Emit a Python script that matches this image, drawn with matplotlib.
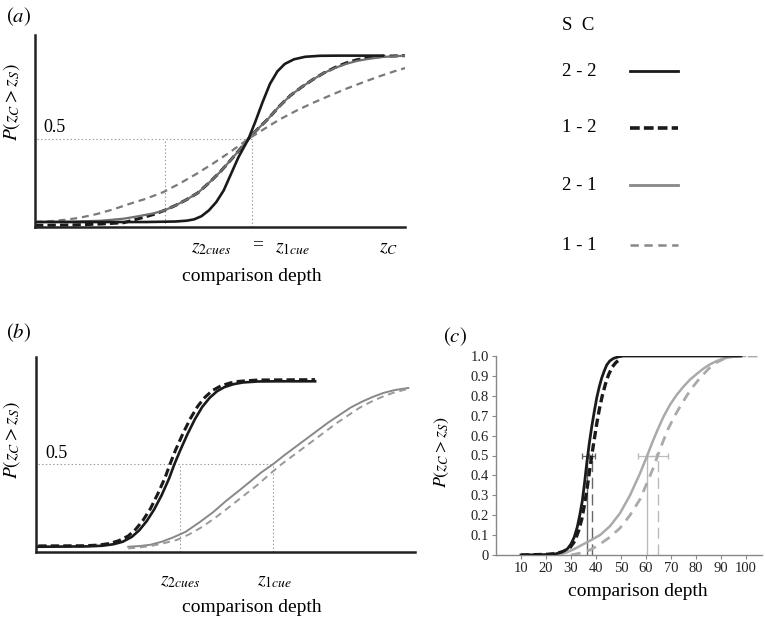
import matplotlib
matplotlib.use("Agg")
import matplotlib.pyplot as plt

plt.rcParams['font.family'] = ['Liberation Serif', 'DejaVu Serif']
plt.rcParams['mathtext.fontset'] = 'stix'
plt.rcParams['lines.scale_dashes'] = False

# ---- data ----
# (a) schematic: equal PSE, different slopes
a_x_22 = [0, 30, 38, 41, 43, 45, 47, 49, 51, 53, 55, 57.7, 59.5, 61.5, 63.5, 65.5, 67.5, 70, 73, 77, 82, 94]
a_p_22 = [0, 0, 0.003, 0.008, 0.016, 0.035, 0.07, 0.12, 0.19, 0.29, 0.39, 0.5, 0.6, 0.72, 0.83, 0.905,
          0.95, 0.978, 0.993, 0.999, 1.0, 1.0]
a_x_21 = [0, 10, 18, 24, 28, 32, 35, 38, 41, 44, 47, 50, 53, 55.5, 57.7, 60, 63, 66, 69, 72, 75, 78, 81,
          84, 87, 90, 94, 100]
a_p_21 = [0, 0.002, 0.008, 0.02, 0.035, 0.052, 0.07, 0.10, 0.135, 0.175, 0.235, 0.30, 0.375, 0.44, 0.5,
          0.555, 0.62, 0.695, 0.76, 0.81, 0.855, 0.895, 0.925, 0.95, 0.968, 0.98, 0.992, 1.0]
a_x_12 = [0, 10, 18, 24, 28, 32, 35, 38, 41, 44, 47, 50, 53, 55.5, 57.7, 60, 63, 66, 69, 72, 75, 78, 81,
          84, 87, 90, 94, 100]
a_p_12 = [-0.02, -0.018, -0.012, -0.004, 0.02, 0.045, 0.07, 0.10, 0.135, 0.175, 0.235, 0.30, 0.375, 0.44,
          0.5, 0.555, 0.62, 0.695, 0.76, 0.81, 0.855, 0.895, 0.928, 0.955, 0.975, 0.987, 0.996, 1.0]
a_x_11 = [0, 4, 8, 12, 16.7, 21, 25.7, 30, 34.7, 39, 43.7, 48, 52.7, 57.7, 62, 66, 70.7, 75, 79.7, 84,
          88.7, 93, 97.7, 100.8]
a_p_11 = [0, 0.005, 0.013, 0.025, 0.048, 0.075, 0.11, 0.14, 0.18, 0.23, 0.29, 0.35, 0.42, 0.5, 0.56,
          0.615, 0.67, 0.715, 0.76, 0.80, 0.84, 0.875, 0.91, 0.93]
a_pse = [35.1, 58.6]

# (b) schematic: shifted PSEs
b_x_22 = [0.7, 14, 18, 21, 23.5, 26, 28, 30, 32, 34, 36, 37.5, 39, 41, 43, 45, 47, 49, 51, 53.5, 56, 60,
          65, 75.5]
b_p_22 = [0, 0.002, 0.006, 0.015, 0.03, 0.06, 0.10, 0.155, 0.225, 0.31, 0.41, 0.5, 0.58, 0.68, 0.77,
          0.845, 0.90, 0.94, 0.965, 0.983, 0.993, 0.999, 1.0, 1.0]
b_x_12 = [0.7, 13, 17, 20, 22.5, 25, 27, 29, 31, 33, 35, 36.3, 37.8, 39.8, 41.8, 43.8, 45.8, 47.8, 50,
          52.5, 55, 60, 75.5]
b_p_12 = [0.005, 0.006, 0.01, 0.02, 0.037, 0.065, 0.105, 0.16, 0.23, 0.32, 0.42, 0.5, 0.585, 0.685,
          0.775, 0.85, 0.905, 0.945, 0.972, 0.99, 1.0, 1.008, 1.01]
b_x_21 = [25, 28, 31, 34, 37, 40.5, 44.4, 48, 51.6, 55, 58, 61, 64.2, 67, 70, 73, 76, 79, 82, 85, 88, 91,
          94, 97, 100.7]
b_p_21 = [0, 0.004, 0.012, 0.03, 0.055, 0.09, 0.15, 0.21, 0.28, 0.34, 0.395, 0.45, 0.5, 0.55, 0.6, 0.65,
          0.70, 0.75, 0.795, 0.84, 0.875, 0.905, 0.93, 0.947, 0.96]
b_x_11 = [25, 28, 31, 34, 38, 41.5, 45, 48.5, 52, 56, 60, 63.3, 66.5, 69.5, 72.5, 75.5, 78.5, 81.5, 84.5,
          87.5, 90.5, 93.5, 96.5, 100.7]
b_p_11 = [-0.01, -0.004, 0.004, 0.018, 0.04, 0.075, 0.12, 0.175, 0.235, 0.305, 0.375, 0.44, 0.5, 0.55,
          0.6, 0.65, 0.70, 0.75, 0.795, 0.84, 0.875, 0.905, 0.93, 0.955]
b_pse = [39.0, 64.2]

# (c) fitted data
c_x_22 = [10, 20, 24, 26.5, 28.5, 30, 31.3, 32.5, 33.5, 34.5, 35.4, 36.3, 37.3, 38.3, 39.3, 40.3, 41.3,
          42.3, 43.3, 44.3, 45.5, 47, 49, 51, 98]
c_p_22 = [0, 0.002, 0.006, 0.015, 0.03, 0.055, 0.09, 0.14, 0.2, 0.27, 0.36, 0.46, 0.56, 0.645, 0.72,
          0.79, 0.845, 0.89, 0.925, 0.955, 0.975, 0.988, 0.996, 1.0, 1.0]
c_x_12 = [10, 20, 24, 27, 29.5, 31.5, 33, 34.3, 35.5, 36.5, 37.5, 38.3, 39.3, 40.3, 41.3, 42.5, 43.8, 45,
          46.5, 48, 49]
c_p_12 = [0, 0.003, 0.007, 0.018, 0.035, 0.07, 0.12, 0.18, 0.26, 0.34, 0.43, 0.5, 0.58, 0.66, 0.73, 0.8,
          0.86, 0.905, 0.945, 0.968, 0.978]
c_x_21 = [25, 28, 31, 34, 37.6, 41.6, 45.6, 49.6, 53.6, 57.6, 60.5, 62.5, 64.5, 67, 69.6, 72.3, 74.9,
          77.5, 80.3, 83, 85.6, 88.3, 90.9, 94, 97.6, 99.6]
c_p_21 = [0, 0.012, 0.028, 0.048, 0.072, 0.10, 0.145, 0.21, 0.3, 0.41, 0.5, 0.565, 0.625, 0.695, 0.755,
          0.805, 0.845, 0.88, 0.91, 0.937, 0.958, 0.975, 0.987, 0.995, 1.0, 1.0]
c_x_11 = [30, 34, 37.6, 41, 44.9, 49.6, 53.6, 57.6, 61, 63, 64.7, 66.8, 68.9, 71.5, 74.3, 77.8, 81.6, 85,
          88.3, 91.5, 95, 105.5]
c_p_11 = [0.0, 0.01, 0.025, 0.05, 0.084, 0.135, 0.2, 0.28, 0.38, 0.44, 0.5, 0.57, 0.635, 0.7, 0.76, 0.83,
          0.89, 0.935, 0.968, 0.988, 1.0, 1.0]
c_pse = [36.3, 38.3, 60.5, 64.7]
c_pse_err = [2.0, 1.3, 3.6, 4.2]
c_xticks = [10, 20, 30, 40, 50, 60, 70, 80, 90, 100]
c_yticks = [0, 0.1, 0.2, 0.3, 0.4, 0.5, 0.6, 0.7, 0.8, 0.9, 1.0]
c_yticklabels = ['0', '0.1', '0.2', '0.3', '0.4', '0.5', '0.6', '0.7', '0.8', '0.9', '1.0']

legend_labels = ['2 - 2', '1 - 2', '2 - 1', '1 - 1']

W, H = 765, 619
fig = plt.figure(figsize=(W / 100, H / 100), dpi=100)


def box(left, top, right, bottom):
    return [left / W, 1 - bottom / H, (right - left) / W, (bottom - top) / H]


def ftext(x, y, s, **kw):
    kw.setdefault('ha', 'center')
    kw.setdefault('va', 'center')
    fig.text(x / W, 1 - y / H, s, **kw)


BLACK = '#1a1a1a'
dash_k = (0, (6, 3))
dash_g = (0, (5, 3.5))
ylab = r'$P(z_C > z_S)$'


def schematic(ax, xmax, ylim):
    for s in ['top', 'right']:
        ax.spines[s].set_visible(False)
    for s in ['left', 'bottom']:
        ax.spines[s].set_color('#222222')
        ax.spines[s].set_linewidth(1.8)
    ax.set_xticks([])
    ax.set_yticks([])
    ax.set_xlim(0, xmax)
    ax.set_ylim(*ylim)


# ---- panel (a) ----
ax_a = fig.add_axes(box(35, 35, 405, 227))
schematic(ax_a, 100, (-0.03, 1.124))
ax_a.plot(a_x_12, a_p_12, color=BLACK, lw=2.2, ls=dash_k, zorder=2)
ax_a.plot(a_x_21, a_p_21, color='#707070', lw=1.6, zorder=3)
ax_a.plot(a_x_11, a_p_11, color='#7a7a7a', lw=1.6, ls=dash_g, zorder=3)
ax_a.plot(a_x_22, a_p_22, color=BLACK, lw=1.9, zorder=4)
ax_a.plot([0.5, a_pse[1]], [0.5, 0.5], color='#999999', lw=0.8, ls=':', zorder=1)
for xv in a_pse:
    ax_a.plot([xv, xv], [-0.03, 0.5], color='#999999', lw=0.8, ls=':', zorder=1)

ftext(6, 17, r'$(a)$', fontsize=15, ha='left')
ftext(43, 128, '0.5', fontsize=13, ha='left')
ftext(12, 102, ylab, fontsize=14, rotation=90)
ftext(211, 248, r'$z_{2cues}$', fontsize=14)
ftext(258, 245, '=', fontsize=14)
ftext(292, 248, r'$z_{1cue}$', fontsize=14)
ftext(389, 248, r'$z_C$', fontsize=14)
ftext(252, 277, 'comparison depth', fontsize=14)

# ---- panel (b) ----
ax_b = fig.add_axes(box(35.7, 357, 415, 551.7))
schematic(ax_b, 102.5, (-0.03, 1.147))
ax_b.plot(b_x_12, b_p_12, color=BLACK, lw=2.2, ls=dash_k, zorder=3)
ax_b.plot(b_x_22, b_p_22, color=BLACK, lw=1.9, zorder=4)
ax_b.plot(b_x_21, b_p_21, color='#888888', lw=1.4, zorder=3)
ax_b.plot(b_x_11, b_p_11, color='#999999', lw=1.4, ls=dash_g, zorder=3)
ax_b.plot([0.6, b_pse[1]], [0.5, 0.5], color='#999999', lw=0.8, ls=':', zorder=1)
for xv in b_pse:
    ax_b.plot([xv, xv], [-0.03, 0.5], color='#999999', lw=0.8, ls=':', zorder=1)

ftext(6, 333, r'$(b)$', fontsize=15, ha='left')
ftext(45, 454, '0.5', fontsize=13, ha='left')
ftext(12, 440, ylab, fontsize=14, rotation=90)
ftext(180, 582, r'$z_{2cues}$', fontsize=14)
ftext(274, 582, r'$z_{1cue}$', fontsize=14)
ftext(252, 608, 'comparison depth', fontsize=14)

# ---- panel (c) ----
ax_c = fig.add_axes(box(496, 356, 762, 555))
ax_c.plot(c_x_12, c_p_12, color=BLACK, lw=2.4, ls=(0, (6, 3)), zorder=3)
ax_c.plot(c_x_22, c_p_22, color=BLACK, lw=2.0, zorder=4)
ax_c.plot(c_x_21, c_p_21, color='#aaaaaa', lw=1.8, zorder=3)
ax_c.plot(c_x_11, c_p_11, color='#aaaaaa', lw=2.0, ls=(0, (7, 5)), zorder=3)
vcols = ['#666666', '#666666', '#bbbbbb', '#bbbbbb']
vstyles = ['-', (0, (8, 4)), '-', (0, (8, 4))]
for xv, err, col, st in zip(c_pse, c_pse_err, vcols, vstyles):
    ax_c.plot([xv, xv], [0, 0.5], color=col, lw=1.0, ls=st, zorder=2)
    ax_c.errorbar([xv], [0.5], xerr=[err], color=col, lw=0.9, capsize=2, zorder=2)
ax_c.set_xlim(0, 106.4)
ax_c.set_ylim(0, 1.0)
ax_c.set_xticks(c_xticks)
ax_c.set_yticks(c_yticks)
ax_c.set_yticklabels(c_yticklabels)
for s in ['top', 'right']:
    ax_c.spines[s].set_visible(False)
for s in ['left', 'bottom']:
    ax_c.spines[s].set_color('#888888')
    ax_c.spines[s].set_linewidth(1.0)
ax_c.tick_params(direction='out', length=3, width=0.8, color='#888888',
                 labelsize=10.5, labelcolor='#222222', pad=2)

ftext(443, 337, r'$(c)$', fontsize=15, ha='left')
ftext(442, 452, ylab, fontsize=13, rotation=90)
ftext(638, 592, 'comparison depth', fontsize=14)

# ---- legend ----
ax_l = fig.add_axes([0, 0, 1, 1], zorder=-1)
ax_l.set_xlim(0, W)
ax_l.set_ylim(H, 0)
ax_l.axis('off')
ftext(562, 25, 'S  C', fontsize=13.5, ha='left')
leg_y = [71, 128, 185, 245]
leg_styles = [(BLACK, '-', 2.0), (BLACK, (0, (7, 3)), 2.6),
              ('#888888', '-', 2.0), ('#888888', (0, (6, 4)), 1.8)]
for lab, yy, (col, st, lw) in zip(legend_labels, leg_y, leg_styles):
    ftext(562, yy, lab, fontsize=13.5, ha='left')
    ax_l.plot([630, 678], [yy, yy], color=col, ls=st, lw=lw)

fig.savefig('out.png', dpi=100)
